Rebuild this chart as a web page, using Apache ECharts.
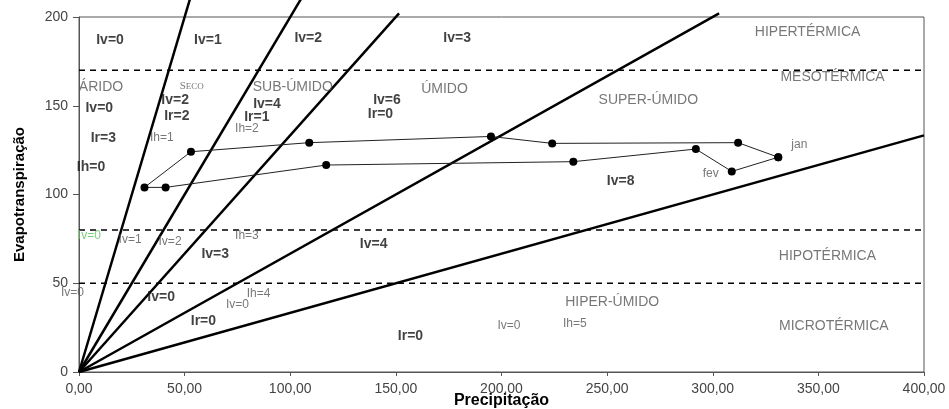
<!DOCTYPE html>
<html>
<head>
<meta charset="utf-8">
<script src="https://cdn.jsdelivr.net/npm/echarts@6/dist/echarts.min.js"></script>
<style>
  html, body { margin: 0; padding: 0; background: #fff; }
  #main { width: 949px; height: 409px; }
</style>
</head>
<body>
<div id="main"></div>
<script>
// limites de classe (retas a partir da origem) - ponto final de cada reta
var boundaryEnds = [[52.5, 210], [105, 210], [151.5, 202], [303, 202], [400, 133.3]];
// faixas térmicas (linhas tracejadas)
var thermalLevels = [170, 80, 50];
// balanço mensal: precipitação x evapotranspiração
var months = ['jan', 'fev', 'mar', 'abr', 'mai', 'jun', 'jul', 'ago', 'set', 'out', 'nov', 'dez'];
var precip = [331, 309, 292, 234, 117, 41, 31, 53, 109, 195, 224, 312];
var evapo = [121, 113, 125.6, 118.5, 116.6, 104, 104, 124.1, 129.2, 132.7, 128.8, 129.2];

// rótulos
var boldLabels = [
  ['Iv=0', 14.7, 187], ['Iv=1', 61, 187], ['Iv=2', 108.5, 188], ['Iv=3', 179, 188.3],
  ['Iv=0', 9.6, 148.6], ['Iv=2', 45.5, 153], ['Ir=2', 46.3, 144], ['Iv=4', 89, 151],
  ['Ir=1', 84.2, 143.5], ['Ir=3', 11.5, 131.6], ['Ih=0', 5.7, 115.6], ['Iv=6', 145.8, 153.2],
  ['Ir=0', 142.7, 145.2], ['Iv=8', 256.4, 107.6], ['Iv=3', 64.5, 66.3], ['Iv=0', 38.9, 42.1],
  ['Ir=0', 58.9, 28.9], ['Iv=4', 139.5, 71.9], ['Ir=0', 156.9, 20.3]
];
var smallLabels = [
  ['Ih=2', 79.5, 137.3], ['Ih=1', 39.2, 132.2], ['Iv=1', 24.2, 74.4], ['Iv=2', 43.1, 73.4],
  ['Ih=3', 79.5, 76.8], ['Iv=0', -3.1, 44.7], ['Ih=4', 85, 44.3], ['Iv=0', 75, 37.7],
  ['Iv=0', 203.5, 25.9], ['Ih=5', 234.7, 27.4], ['jan', 341, 128], ['fev', 299, 111.5]
];
var greenLabels = [['Iv=0', 4.9, 76.8]];
var regionLabels = [
  ['ÁRIDO', 10.4, 160.6], ['SUB-ÚMIDO', 101.2, 160.7], ['ÚMIDO', 173, 159.3],
  ['SUPER-ÚMIDO', 269.5, 153.2], ['HIPERTÉRMICA', 344.9, 191.4], ['MESOTÉRMICA', 356.7, 166.2],
  ['HIPER-ÚMIDO', 252.4, 39.6], ['HIPOTÉRMICA', 354.3, 65], ['MICROTÉRMICA', 357.3, 25.9]
];
var serifLabels = [['SECO', 53.4, 161]];

var FONT = 'Arial, "Liberation Sans", sans-serif';

function textSeries(list, style) {
  return {
    type: 'scatter',
    clip: false,
    silent: true,
    symbolSize: 1,
    itemStyle: { color: 'rgba(0,0,0,0)' },
    z: 5,
    data: list.map(function (v) {
      return { name: v[0], value: [v[1], v[2]] };
    }),
    label: Object.assign({
      show: true,
      position: 'inside',
      formatter: '{b}',
      fontFamily: FONT,
      align: 'center',
      verticalAlign: 'middle'
    }, style)
  };
}

var series = [];

// retas das classes
boundaryEnds.forEach(function (p) {
  series.push({
    type: 'line',
    clip: false,
    silent: true,
    symbol: 'none',
    data: [[0, 0], p],
    lineStyle: { color: '#000', width: 2.5 },
    z: 3
  });
});

// linhas tracejadas
thermalLevels.forEach(function (y) {
  series.push({
    type: 'line',
    silent: true,
    symbol: 'none',
    data: [[0, y], [400, y]],
    lineStyle: { color: '#000', width: 1.6, type: [6, 5] },
    z: 2
  });
});

// polígono mensal (fechado)
var poly = precip.map(function (v, i) { return [v, evapo[i]]; });
poly.push(poly[0]);
series.push({
  type: 'line',
  silent: true,
  data: poly,
  symbol: 'circle',
  symbolSize: 8,
  showAllSymbol: true,
  itemStyle: { color: '#000' },
  lineStyle: { color: '#222', width: 1 },
  z: 4
});

series.push(textSeries(boldLabels, { fontSize: 14, fontWeight: 'bold', color: '#111' }));
series.push(textSeries(smallLabels, { fontSize: 12, color: '#555' }));
series.push(textSeries(greenLabels, { fontSize: 12, color: '#5cbf5c' }));
series.push(textSeries(regionLabels, { fontSize: 14, color: '#555' }));
// "SECO" em versalete
series.push(textSeries(serifLabels, {
  color: '#555',
  formatter: '{a|S}{b|ECO}',
  rich: {
    a: { fontSize: 11, fontFamily: '"Liberation Serif", "DejaVu Serif", serif', color: '#555' },
    b: { fontSize: 9, fontFamily: '"Liberation Serif", "DejaVu Serif", serif', color: '#555' }
  }
}));

var myChart = echarts.init(document.getElementById('main'));
var option = {
  animation: false,
  backgroundColor: '#fff',
  grid: {
    left: 79, right: 25, top: 17, bottom: 37,
    outerBoundsMode: 'none',
    containLabel: false,
    show: true, borderColor: '#555', borderWidth: 1
  },
  xAxis: {
    type: 'value',
    min: 0, max: 400, interval: 50,
    name: 'Precipitação',
    nameLocation: 'middle',
    nameGap: 21,
    nameMoveOverlap: false,
    nameTextStyle: { fontFamily: FONT, fontSize: 16, fontWeight: 'bold', color: '#000' },
    axisLine: { show: true, lineStyle: { color: '#555' } },
    axisTick: { show: true, length: 4, lineStyle: { color: '#555' } },
    axisLabel: {
      fontFamily: FONT, fontSize: 14, color: '#444', margin: 10,
      formatter: function (v) { return v.toFixed(2).replace('.', ','); }
    },
    splitLine: { show: false }
  },
  yAxis: {
    type: 'value',
    min: 0, max: 200, interval: 50,
    name: 'Evapotranspiração',
    nameLocation: 'middle',
    nameGap: 52,
    nameMoveOverlap: false,
    nameTextStyle: { fontFamily: FONT, fontSize: 15, fontWeight: 'bold', color: '#000' },
    axisLine: { show: true, lineStyle: { color: '#555' } },
    axisTick: { show: true, length: 6, lineStyle: { color: '#555' } },
    axisLabel: { fontFamily: FONT, fontSize: 14, color: '#444', margin: 11 },
    splitLine: { show: false }
  },
  series: series
};
myChart.setOption(option);
</script>
</body>
</html>
